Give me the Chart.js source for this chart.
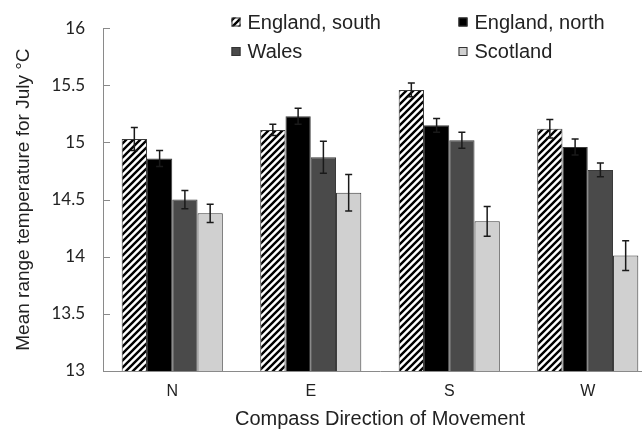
<!DOCTYPE html>
<html>
<head>
<meta charset="utf-8">
<script src="https://cdn.jsdelivr.net/npm/chart.js@4"></script>
<style>
  html, body { margin: 0; padding: 0; background: #fff; overflow: hidden; }
  #wrap { width: 657px; height: 431px; }
</style>
</head>
<body>
<div id="wrap"><canvas id="barChart" width="657" height="431"></canvas></div>
<script>
// data
var directions = ['N', 'E', 'S', 'W'];
var seriesNames = ['England, south', 'England, north', 'Wales', 'Scotland'];
var englandSouth = [15.03, 15.11, 15.46, 15.12];
var englandNorth = [14.86, 15.23, 15.15, 14.96];
var wales        = [14.50, 14.87, 15.02, 14.76];
var scotland     = [14.38, 14.56, 14.31, 14.01];
var errSouth    = [0.10, 0.05, 0.06, 0.08];
var errNorth    = [0.07, 0.07, 0.06, 0.07];
var errWales    = [0.08, 0.14, 0.07, 0.06];
var errScotland = [0.08, 0.16, 0.13, 0.13];

var textColor = '#222';
var axisColor = '#8a8a8a';

// hatch pattern for England, south
function makeHatch() {
  var s = 7;
  var c = document.createElement('canvas');
  c.width = s; c.height = s;
  var g = c.getContext('2d');
  g.fillStyle = '#fff';
  g.fillRect(0, 0, s, s);
  g.strokeStyle = '#000';
  g.lineWidth = 2.4;
  g.beginPath();
  g.moveTo(-1, s + 1); g.lineTo(s + 1, -1);
  g.moveTo(-1, 1); g.lineTo(1, -1);
  g.moveTo(s - 1, s + 1); g.lineTo(s + 1, s - 1);
  g.stroke();
  return g.createPattern(c, 'repeat');
}

var ctx = document.getElementById('barChart').getContext('2d');
var hatch = makeHatch();
var fills = [hatch, '#000000', '#4a4a4a', '#d0d0d0'];
var errors = [errSouth, errNorth, errWales, errScotland];
var values = [englandSouth, englandNorth, wales, scotland];

var sets = [];
for (var i = 0; i < seriesNames.length; i++) {
  sets.push({
    label: seriesNames[i],
    data: values[i],
    backgroundColor: fills[i],
    borderColor: '#3a3a3a',
    borderWidth: 1,
    categoryPercentage: 0.73,
    barPercentage: 1.0
  });
}

// error bars, inner y ticks and legend
var extras = {
  id: 'extras',
  afterDatasetsDraw: function (chart) {
    var c = chart.ctx;
    var y = chart.scales.y;
    c.save();
    c.strokeStyle = '#1a1a1a';
    c.lineWidth = 1.5;
    for (var d = 0; d < chart.data.datasets.length; d++) {
      var meta = chart.getDatasetMeta(d);
      meta.data.forEach(function (bar, j) {
        var v = chart.data.datasets[d].data[j];
        var e = errors[d][j];
        var top = y.getPixelForValue(v + e);
        var bot = y.getPixelForValue(v - e);
        c.beginPath();
        c.moveTo(bar.x, top); c.lineTo(bar.x, bot);
        c.moveTo(bar.x - 3.5, top); c.lineTo(bar.x + 3.5, top);
        c.moveTo(bar.x - 3.5, bot); c.lineTo(bar.x + 3.5, bot);
        c.stroke();
      });
    }
    c.restore();
  },
  afterDraw: function (chart) {
    var c = chart.ctx;
    var area = chart.chartArea;
    var y = chart.scales.y;
    c.save();
    // small tick marks on the inside of the y axis
    c.strokeStyle = axisColor;
    c.lineWidth = 1;
    y.ticks.forEach(function (t) {
      var py = Math.round(y.getPixelForValue(t.value)) + 0.5;
      c.beginPath();
      c.moveTo(area.left, py); c.lineTo(area.left + 7, py);
      c.stroke();
    });
    // legend, two columns inside the plot
    var cols = [231.5, 458.5];
    var rows = [22, 51.5];
    c.font = '20px "Liberation Sans", Arial, sans-serif';
    c.textBaseline = 'middle';
    c.textAlign = 'left';
    for (var i = 0; i < seriesNames.length; i++) {
      var lx = cols[i % 2];
      var ly = rows[Math.floor(i / 2)];
      c.fillStyle = fills[i];
      c.fillRect(lx, ly - 4.5, 9, 9);
      c.strokeStyle = '#333';
      c.strokeRect(lx + 0.5, ly - 4, 8, 8);
      c.fillStyle = textColor;
      c.fillText(seriesNames[i], lx + 16, ly + 1);
    }
    c.restore();
  }
};

var barChart = new Chart(ctx, {
  type: 'bar',
  data: { labels: directions, datasets: sets },
  plugins: [extras],
  options: {
    responsive: false,
    animation: false,
    layout: { padding: { top: 17, right: 0, bottom: 0, left: 0 } },
    plugins: {
      legend: { display: false },
      tooltip: { enabled: false }
    },
    scales: {
      x: {
        grid: { display: false, drawTicks: false },
        border: { display: true, color: axisColor, width: 1 },
        ticks: {
          color: textColor,
          padding: 11,
          font: { family: '"Liberation Sans", Arial, sans-serif', size: 16 }
        },
        title: {
          display: true,
          text: 'Compass Direction of Movement',
          color: textColor,
          padding: { top: 4, bottom: 0 },
          font: { family: '"Liberation Sans", Arial, sans-serif', size: 20 }
        },
        afterFit: function (scale) { scale.height = 60; }
      },
      y: {
        min: 13,
        max: 16,
        ticks: {
          stepSize: 0.5,
          color: textColor,
          padding: 18,
          font: { family: 'Lato, "Open Sans", sans-serif', size: 17 },
          callback: function (value) { return String(Number(value.toFixed(1))); }
        },
        grid: { display: false, drawTicks: false },
        border: { display: true, color: axisColor, width: 1 },
        title: {
          display: true,
          text: 'Mean range temperature for July °C',
          color: textColor,
          padding: { top: 12, bottom: 0 },
          font: { family: '"Liberation Sans", Arial, sans-serif', size: 19 }
        },
        afterFit: function (scale) { scale.width = 103; }
      }
    }
  }
});
</script>
</body>
</html>
